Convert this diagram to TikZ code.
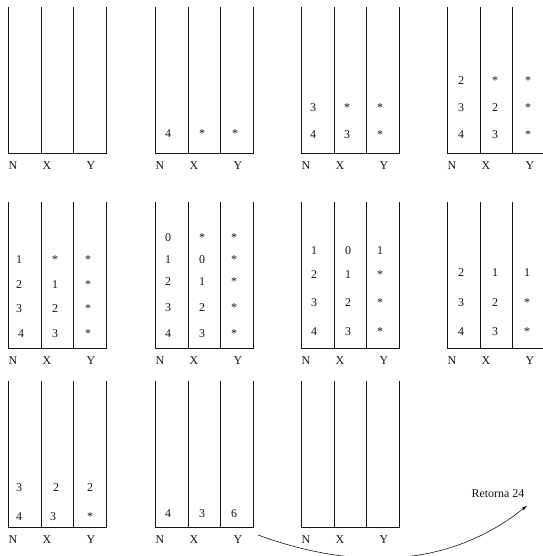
\documentclass[tikz,border=0pt]{standalone}
\usepackage{fontspec}
\setmainfont{Liberation Serif}
\usepackage{tikz}
\usetikzlibrary{arrows.meta, positioning, calc}
\definecolor{tinta}{RGB}{20,20,20}
\tikzset{
  linha/.style={line width=0.7pt, color=tinta},
  seta/.style={-{Latex[length=6pt, width=3pt]}, line width=0.6pt, color=tinta},
  rot/.style={inner sep=0pt, font=\fontsize{12}{14}\selectfont, text=tinta},
  val/.style={inner sep=0pt, font=\fontsize{12}{14}\selectfont, text=tinta}
}
% pilha: nome, x esquerdo, y da base
\newcommand{\pilha}[3]{%
  \draw[linha] (#2,#3-146) -- (#2,#3) -- (#2+98,#3) -- (#2+98,#3-146);
  \draw[linha] (#2+33,#3-146) -- (#2+33,#3);
  \draw[linha] (#2+65,#3-146) -- (#2+65,#3);
  \node[rot] (#1N) at (#2+5,#3+13) {N};
  \node[rot] (#1X) at (#2+39,#3+13) {X};
  \node[rot] (#1Y) at (#2+83,#3+13) {Y};
}
\begin{document}
\begin{tikzpicture}[x=1bp, y=-1bp]
  \useasboundingbox (0,0) rectangle (543,556);
  \clip (0,0) rectangle (543,556);

  % primeira linha
  \pilha{pa}{8}{153}
  \pilha{pb}{155}{153}
  \pilha{pc}{301}{153}
  \pilha{pd}{447}{153}
  % segunda linha
  \pilha{pe}{8}{348}
  \pilha{pf}{155}{348}
  \pilha{pg}{301}{348}
  \pilha{ph}{447}{348}
  % terceira linha
  \pilha{pi}{8}{527}
  \pilha{pj}{155}{527}
  \pilha{pk}{301}{527}

  \node[val] (b1n) at (168,134) {4};
  \node[val] (b1x) at (202,134) {*};
  \node[val] (b1y) at (235,134) {*};

  \node[val] (c2n) at (313,108) {3};
  \node[val] (c2x) at (347,108) {*};
  \node[val] (c2y) at (380,108) {*};
  \node[val] (c1n) at (313,135) {4};
  \node[val] (c1x) at (347,135) {3};
  \node[val] (c1y) at (380,135) {*};

  \node[val] (d3n) at (461,81) {2};
  \node[val] (d3x) at (495,81) {*};
  \node[val] (d3y) at (528,81) {*};
  \node[val] (d2n) at (461,108) {3};
  \node[val] (d2x) at (495,108) {2};
  \node[val] (d2y) at (528,108) {*};
  \node[val] (d1n) at (461,135) {4};
  \node[val] (d1x) at (495,135) {3};
  \node[val] (d1y) at (528,135) {*};

  \node[val] (e4n) at (19,260) {1};
  \node[val] (e4x) at (55,260) {*};
  \node[val] (e4y) at (88,260) {*};
  \node[val] (e3n) at (19,285) {2};
  \node[val] (e3x) at (55,285) {1};
  \node[val] (e3y) at (88,285) {*};
  \node[val] (e2n) at (19,309) {3};
  \node[val] (e2x) at (55,309) {2};
  \node[val] (e2y) at (88,309) {*};
  \node[val] (e1n) at (21,334) {4};
  \node[val] (e1x) at (55,334) {3};
  \node[val] (e1y) at (88,334) {*};

  \node[val] (f5n) at (168,238) {0};
  \node[val] (f5x) at (202,238) {*};
  \node[val] (f5y) at (234,238) {*};
  \node[val] (f4n) at (168,260) {1};
  \node[val] (f4x) at (202,260) {0};
  \node[val] (f4y) at (234,260) {*};
  \node[val] (f3n) at (168,282) {2};
  \node[val] (f3x) at (202,282) {1};
  \node[val] (f3y) at (234,282) {*};
  \node[val] (f2n) at (168,308) {3};
  \node[val] (f2x) at (202,308) {2};
  \node[val] (f2y) at (234,308) {*};
  \node[val] (f1n) at (168,334) {4};
  \node[val] (f1x) at (202,334) {3};
  \node[val] (f1y) at (234,334) {*};

  \node[val] (g4n) at (314,251) {1};
  \node[val] (g4x) at (348,251) {0};
  \node[val] (g4y) at (380,251) {1};
  \node[val] (g3n) at (314,275) {2};
  \node[val] (g3x) at (348,275) {1};
  \node[val] (g3y) at (380,275) {*};
  \node[val] (g2n) at (314,303) {3};
  \node[val] (g2x) at (348,303) {2};
  \node[val] (g2y) at (380,303) {*};
  \node[val] (g1n) at (314,332) {4};
  \node[val] (g1x) at (348,332) {3};
  \node[val] (g1y) at (380,332) {*};

  \node[val] (h3n) at (461,273) {2};
  \node[val] (h3x) at (495,273) {1};
  \node[val] (h3y) at (527,273) {1};
  \node[val] (h2n) at (461,303) {3};
  \node[val] (h2x) at (495,303) {2};
  \node[val] (h2y) at (527,303) {*};
  \node[val] (h1n) at (461,332) {4};
  \node[val] (h1x) at (495,332) {3};
  \node[val] (h1y) at (527,332) {*};

  \node[val] (i2n) at (19,488) {3};
  \node[val] (i2x) at (56,488) {2};
  \node[val] (i2y) at (90,488) {2};
  \node[val] (i1n) at (19,517) {4};
  \node[val] (i1x) at (53,517) {3};
  \node[val] (i1y) at (90,517) {*};

  \node[val] (j1n) at (168,514) {4};
  \node[val] (j1x) at (202,514) {3};
  \node[val] (j1y) at (234,514) {6};

  \node[rot] (ret) at (498,494) {Retorna 24};
  \coordinate (saida) at (258,535);

  \draw[seta] (saida) .. controls (340,565) and (440,575) .. ([xshift=3bp, yshift=-7bp]ret.south east);
\end{tikzpicture}
\end{document}
